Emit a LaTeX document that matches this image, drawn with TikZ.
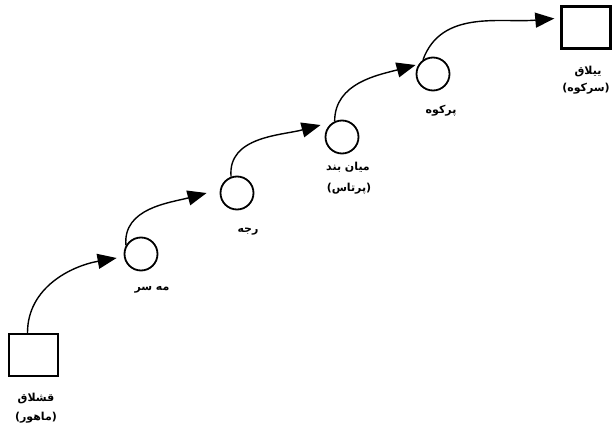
\documentclass[tikz,border=0pt]{standalone}
\usepackage{fontspec}
\usetikzlibrary{arrows.meta,calc}
\TeXXeTstate=1
\newfontfamily\arabicfont[Script=Arabic]{DejaVu Sans}
\newfontfamily\parenfont{DejaVu Sans}
\newcommand{\ar}[1]{{\arabicfont\bfseries\beginR #1\endR}}
\newcommand{\arp}[1]{{\parenfont\bfseries(}\ar{#1}{\parenfont\bfseries)}}
\begin{document}
\begin{tikzpicture}[x=1pt,y=-1pt,
  boxn/.style={draw, line width=2.4pt, minimum width=49pt, minimum height=42pt, inner sep=0pt},
  circ/.style={draw, circle, line width=1.8pt, minimum size=33pt, inner sep=0pt},
  lab/.style={inner sep=0pt, font=\fontsize{11}{13}\selectfont},
  conn/.style={line width=1.4pt, -{Triangle[length=19pt,width=15pt]}}]
\fill[white] (0,0) rectangle (613,433);
\useasboundingbox (0,0) rectangle (613,433);

\node[boxn] (b1) at (33.5,355) {};
\node[circ] (c1) at (141,254) {};
\node[circ] (c2) at (237,193) {};
\node[circ] (c3) at (342,137) {};
\node[circ] (c4) at (433,74) {};
\node[boxn] (b2) at (586,27.5) {};

\node[lab] (l1a) at (36,398) {\ar{قشلاق}};
\node[lab] (l1b) at (36,418) {\arp{ماهور}};
\node[lab] (l2) at (152,290) {\ar{مه سر}};
\node[lab] (l3) at (248,232) {\ar{رجه}};
\node[lab] (l4a) at (348,167) {\ar{میان بند}};
\node[lab] (l4b) at (349,189) {\arp{پرتاس}};
\node[lab] (l5) at (441,111) {\ar{پرکوه}};
\node[lab] (l6a) at (588,72) {\ar{ییلاق}};
\node[lab] (l6b) at (586,89) {\arp{سرکوه}};

\draw[conn] ([xshift=-6pt]b1.north) to[out=90,in=190] ([xshift=-7pt,yshift=-4pt]c1.west);
\draw[conn] (c1.150) to[out=95,in=195] ([xshift=-13pt]c2.west);
\draw[conn] (c2.110) to[out=95,in=195] ([xshift=-4pt,yshift=12pt]c3.west);
\draw[conn] (c3.115) to[out=90,in=195] ([yshift=9pt]c4.west);
\draw[conn] (c4.125) to[out=70,in=185] ([xshift=-6pt,yshift=9pt]b2.west);
\end{tikzpicture}
\end{document}
